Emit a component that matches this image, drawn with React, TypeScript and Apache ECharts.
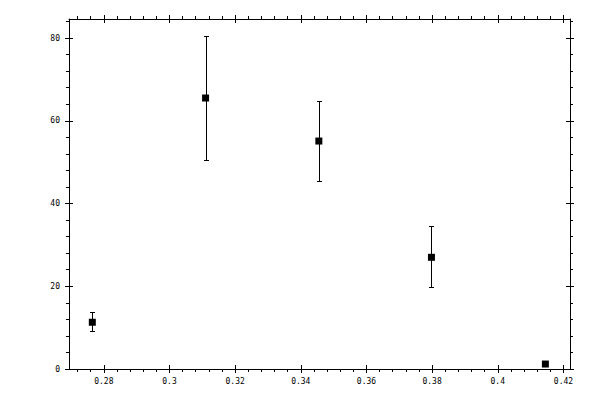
import React, { useEffect, useRef } from 'react';
import * as echarts from 'echarts';

// measured points (x, y) with lower / upper error bounds
const xValues = [0.2765, 0.311, 0.3455, 0.3798, 0.4145];
const yValues = [11.3, 65.5, 55.1, 27.0, 1.2];
const yLow = [9.1, 50.5, 45.4, 19.8, 0.9];
const yHigh = [13.7, 80.5, 64.8, 34.5, 1.5];

const xMajorTicks = [0.28, 0.3, 0.32, 0.34, 0.36, 0.38, 0.4, 0.42];
const yMajorTicks = [0, 20, 40, 60, 80];

const X_MIN = 0.2694;
const X_MAX = 0.422;
const Y_MIN = 0;
const Y_MAX = 84.6;

// minor ticks: 4 between each pair of majors
const minorsOf = (majors: number[], lo: number, hi: number) => {
  const step = (majors[1] - majors[0]) / 5;
  const out: number[] = [];
  for (let v = majors[0] - step * 5; v <= hi + 1e-9; v += step) {
    const isMajor = majors.some(m => Math.abs(m - v) < step / 10);
    if (!isMajor && v >= lo - 1e-9) out.push(+v.toFixed(6));
  }
  return out;
};

const xMinorTicks = minorsOf(xMajorTicks, X_MIN, X_MAX);
const yMinorTicks = minorsOf(yMajorTicks, Y_MIN, Y_MAX);

const FONT = 'DejaVu Sans Mono';

type Kind = 'majorOut' | 'majorIn' | 'minorOut';

const axisDef = (dim: 'x' | 'y', position: string, kind: Kind, labels: boolean) => {
  const majors = dim === 'x' ? xMajorTicks : yMajorTicks;
  const minors = dim === 'x' ? xMinorTicks : yMinorTicks;
  return {
    type: 'value',
    position,
    min: dim === 'x' ? X_MIN : Y_MIN,
    max: dim === 'x' ? X_MAX : Y_MAX,
    splitLine: { show: false },
    axisLine: { show: kind === 'majorOut', onZero: false, lineStyle: { color: '#000', width: 1 } },
    axisTick: {
      show: true,
      inside: kind === 'majorIn',
      length: kind === 'minorOut' ? 3 : 4,
      lineStyle: { color: '#000', width: 1 },
      customValues: kind === 'minorOut' ? minors : majors,
    },
    axisLabel: {
      show: labels,
      customValues: majors,
      margin: dim === 'x' ? 8 : 9,
      color: '#000',
      fontFamily: FONT,
      fontSize: 8,
      formatter: (v: number) => String(+v.toFixed(2)),
    },
  };
};

export default function App() {
  const ref = useRef<HTMLDivElement | null>(null);

  useEffect(() => {
    if (!ref.current) return;
    const chart = echarts.init(ref.current, undefined, { renderer: 'svg' });
    const kinds: Kind[] = ['majorOut', 'majorIn', 'minorOut'];
    chart.setOption({
      animation: false,
      backgroundColor: '#fff',
      grid: { left: 69, right: 30, top: 19, bottom: 31, containLabel: false },
      xAxis: [
        ...kinds.map((k, i) => axisDef('x', 'bottom', k, i === 0)),
        ...kinds.map(k => axisDef('x', 'top', k, false)),
      ],
      yAxis: [
        ...kinds.map((k, i) => axisDef('y', 'left', k, i === 0)),
        ...kinds.map(k => axisDef('y', 'right', k, false)),
      ],
      series: [
        {
          type: 'custom',
          xAxisIndex: 0,
          yAxisIndex: 0,
          data: xValues.map((x, i) => [x, yLow[i], yHigh[i]]),
          encode: { x: 0, y: [1, 2] },
          renderItem: (_params: any, api: any) => {
            const x = api.value(0);
            const top = api.coord([x, api.value(2)]);
            const bot = api.coord([x, api.value(1)]);
            const cx = Math.round(top[0]) + 0.5;
            const ty = Math.round(top[1]) + 0.5;
            const by = Math.round(bot[1]) + 0.5;
            const w = 2.5;
            const style = { stroke: '#000', lineWidth: 1 };
            return {
              type: 'group',
              children: [
                { type: 'line', shape: { x1: cx, y1: ty, x2: cx, y2: by }, style },
                { type: 'line', shape: { x1: cx - w, y1: ty, x2: cx + w, y2: ty }, style },
                { type: 'line', shape: { x1: cx - w, y1: by, x2: cx + w, y2: by }, style },
              ],
            };
          },
          z: 2,
        },
        {
          type: 'scatter',
          xAxisIndex: 0,
          yAxisIndex: 0,
          symbol: 'rect',
          symbolSize: 7,
          itemStyle: { color: '#000', opacity: 1 },
          data: xValues.map((x, i) => [x, yValues[i]]),
          z: 3,
        },
      ],
    });
    return () => chart.dispose();
  }, []);

  return (
    <div
      ref={ref}
      style={{ position: 'fixed', left: 0, top: 0, width: 600, height: 400, background: '#fff' }}
    />
  );
}
